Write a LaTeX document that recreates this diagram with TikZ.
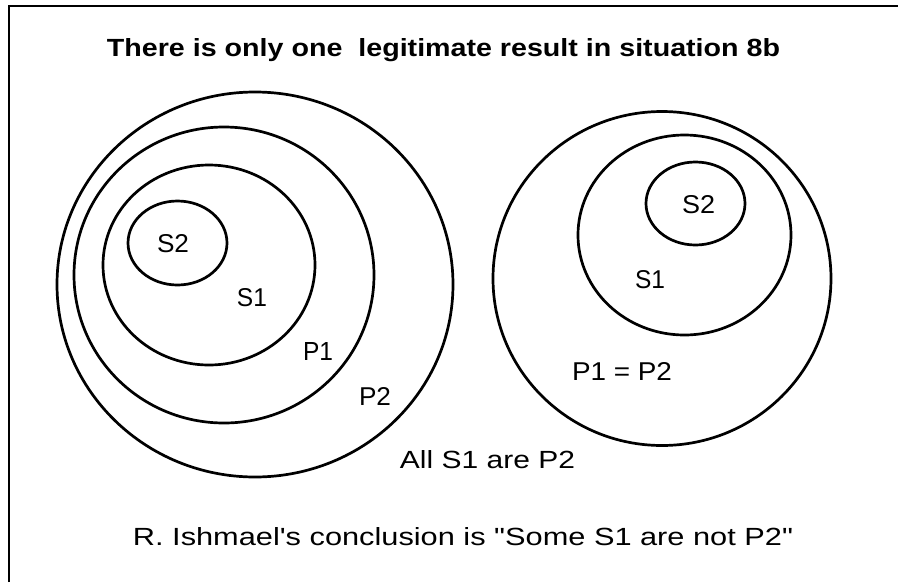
\documentclass[tikz,border=0pt]{standalone}
\usepackage{fontspec}
\usepackage{graphicx}
\setmainfont{Liberation Sans}[Ligatures=TeXOff]
\newcommand{\fitw}[2]{\resizebox{#1}{18pt}{#2}}
\tikzset{
  ring/.style={draw=black, line width=2.7pt},
  lbl/.style={anchor=base, inner sep=0pt, outer sep=0pt},
  frame/.style={draw=black, line width=2.6pt}
}
\begin{document}
\begin{tikzpicture}[x=1pt, y=-1pt]
\useasboundingbox (0,0) rectangle (898,582);
% frame (only top and left edges visible)
\draw[frame] (9,582) -- (9,6) -- (898,6);
% left diagram
\draw[ring] (255,284.5) ellipse [x radius=198, y radius=192.5];
\draw[ring] (224,275) ellipse [x radius=150, y radius=148];
\draw[ring] (209,265) ellipse [x radius=106, y radius=100];
\draw[ring] (177.5,243) ellipse [x radius=49.5, y radius=42];
% right diagram
\draw[ring] (662,278.5) ellipse [x radius=169, y radius=167];
\draw[ring] (684.5,235) ellipse [x radius=106.5, y radius=100];
\draw[ring] (695.5,203.5) ellipse [x radius=49.5, y radius=41.5];
% texts
\node[lbl] (title) at (443.5,56) {\fitw{673pt}{\bfseries There is only one\ \ legitimate result in situation 8b}};
\node[lbl] (ls2) at (173,252) {\fitw{32pt}{S2}};
\node[lbl] (ls1) at (252,306) {\fitw{30pt}{S1}};
\node[lbl] (lp1) at (318,360) {\fitw{30pt}{P1}};
\node[lbl] (lp2) at (375,405) {\fitw{32pt}{P2}};
\node[lbl] (rs2) at (698.5,213) {\fitw{33pt}{S2}};
\node[lbl] (rs1) at (650,288) {\fitw{30pt}{S1}};
\node[lbl] (rp) at (622,380) {\fitw{100pt}{P1 = P2}};
\node[lbl] (all) at (487.5,468) {\fitw{175pt}{All S1 are P2}};
\node[lbl] (concl) at (463,545) {\fitw{660pt}{R. Ishmael's conclusion is "Some S1 are not P2"}};
\end{tikzpicture}
\end{document}
